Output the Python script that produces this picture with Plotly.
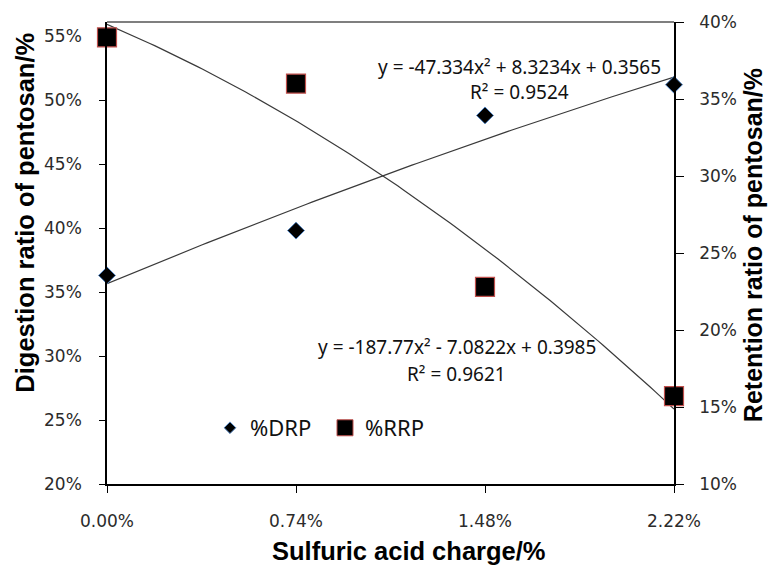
import numpy as np
import plotly.graph_objects as go

# Sulfuric acid charge (fraction) and measured ratios
acid_charge = [0.0, 0.0074, 0.0148, 0.0222]
tick_labels = ["0.00%", "0.74%", "1.48%", "2.22%"]
drp = [0.363, 0.398, 0.488, 0.512]   # digestion ratio of pentosan (left axis)
rrp = [0.390, 0.360, 0.228, 0.157]   # retention ratio of pentosan (right axis)

# Polynomial trendline coefficients [a, b, c] for y = a*x^2 + b*x + c
drp_fit = [-47.334, 8.3234, 0.3565]
rrp_fit = [-187.77, -7.0822, 0.3985]
drp_r2 = 0.9524
rrp_r2 = 0.9621

xs = np.linspace(acid_charge[0], acid_charge[-1], 120)
drp_curve = np.polyval(drp_fit, xs)
rrp_curve = np.polyval(rrp_fit, xs)

line_col = "#3a3a3a"
tick_font = dict(family="DejaVu Sans", size=17, color="#2b2b2b")
title_font = dict(family="Liberation Sans", size=25.5, color="#000000")
eq_font = dict(family="Noto Sans", size=19, color="#111111")

fig = go.Figure()

fig.add_trace(go.Scatter(x=xs, y=drp_curve, mode="lines", showlegend=False,
                         line=dict(color=line_col, width=1.2), hoverinfo="skip"))
fig.add_trace(go.Scatter(x=xs, y=rrp_curve, mode="lines", showlegend=False, yaxis="y2",
                         line=dict(color=line_col, width=1.2), hoverinfo="skip"))

fig.add_trace(go.Scatter(x=acid_charge, y=drp, mode="markers", name="%DRP", showlegend=False,
                         cliponaxis=False,
                         marker=dict(symbol="diamond", size=13, color="#000000",
                                     line=dict(color="#4f81bd", width=1))))
fig.add_trace(go.Scatter(x=acid_charge, y=rrp, mode="markers", name="%RRP", showlegend=False,
                         yaxis="y2", cliponaxis=False,
                         marker=dict(symbol="square", size=19, color="#000000",
                                     line=dict(color="#c0504d", width=1.2))))

# legend entries
fig.add_trace(go.Scatter(x=[None], y=[None], mode="markers", name="%DRP",
                         marker=dict(symbol="diamond", size=9, color="#000000",
                                     line=dict(color="#4f81bd", width=1))))
fig.add_trace(go.Scatter(x=[None], y=[None], mode="markers", name="%RRP",
                         marker=dict(symbol="square", size=16, color="#000000",
                                     line=dict(color="#c0504d", width=1))))

ctr = dict(xanchor="center", yanchor="middle", showarrow=False)
ann = []
ann.append(dict(x=0.01617, y=0.5257, xref="x", yref="y", font=eq_font,
                text=f"y = {drp_fit[0]}x² + {drp_fit[1]}x + {drp_fit[2]}", **ctr))
ann.append(dict(x=0.01617, y=0.5065, xref="x", yref="y", font=eq_font,
                text=f"R² = {drp_r2}", **ctr))
ann.append(dict(x=0.01370, y=0.3068, xref="x", yref="y", font=eq_font,
                text=f"y = {rrp_fit[0]}x² - {abs(rrp_fit[1])}x + {rrp_fit[2]}", **ctr))
ann.append(dict(x=0.01370, y=0.2860, xref="x", yref="y", font=eq_font,
                text=f"R² = {rrp_r2}", **ctr))
# axis titles
ann.append(dict(x=(408.5 - 107) / 567, y=-(552 - 484) / 470, xref="paper", yref="paper",
                text="<b>Sulfuric acid charge/%</b>", font=title_font, **ctr))
ann.append(dict(x=-(107 - 25) / 567, y=(484 - 208) / 470, xref="paper", yref="paper",
                textangle=-90, text="<b>Digestion ratio of pentosan/%</b>",
                font=title_font, **ctr))
ann.append(dict(x=(753 - 107) / 567, y=(484 - 241) / 470, xref="paper", yref="paper",
                textangle=-90, text="<b>Retention ratio of pentosan/%</b>",
                font=dict(family="Liberation Sans", size=25, color="#000000"), **ctr))

fig.update_layout(
    width=769, height=567,
    margin=dict(l=107, r=95, t=14, b=83),
    paper_bgcolor="white", plot_bgcolor="white",
    annotations=ann,
    showlegend=True,
    legend=dict(orientation="h", x=(210 - 107) / 567, y=(484 - 427) / 470,
                xanchor="left", yanchor="middle", bgcolor="rgba(0,0,0,0)",
                font=dict(family="Noto Sans", size=22, color="#111111"),
                entrywidth=70, entrywidthmode="pixels", itemsizing="trace"),
    xaxis=dict(range=[0, acid_charge[-1]], tickvals=acid_charge, ticktext=tick_labels,
               showgrid=False, zeroline=False, showline=True, linecolor="#000000",
               linewidth=1.5, ticks="outside", ticklen=7, tickcolor="#000000",
               tickfont=tick_font, ticklabelstandoff=14),
    yaxis=dict(range=[0.2, 0.561], tickvals=[0.20, 0.25, 0.30, 0.35, 0.40, 0.45, 0.50, 0.55],
               tickformat=".0%", showgrid=False, zeroline=False, showline=True,
               linecolor="#000000", linewidth=1.5, ticks="outside", ticklen=6,
               tickcolor="#000000", tickfont=tick_font, ticklabelstandoff=14),
    yaxis2=dict(range=[0.10, 0.40], tickvals=[0.10, 0.15, 0.20, 0.25, 0.30, 0.35, 0.40],
                tickformat=".0%", overlaying="y", side="right", showgrid=False,
                zeroline=False, showline=True, linecolor="#000000", linewidth=1.5,
                ticks="outside", ticklen=8, tickcolor="#000000", tickfont=tick_font,
                ticklabelstandoff=12),
    shapes=[dict(type="line", xref="paper", yref="paper", x0=0, x1=1, y0=1, y1=1,
                 line=dict(color="#555555", width=1.5))],
)

fig.write_html("out.html")
